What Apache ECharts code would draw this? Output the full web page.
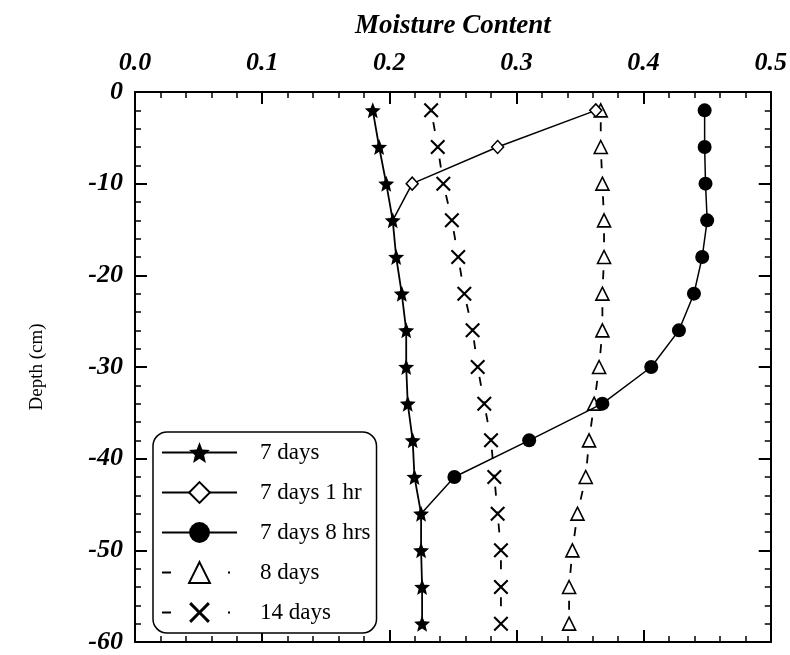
<!DOCTYPE html>
<html>
<head>
<meta charset="utf-8">
<style>
  html, body { margin: 0; padding: 0; background: #fff; }
  #chart { width: 790px; height: 655px; }
</style>
<script src="https://cdn.jsdelivr.net/npm/echarts@6.0.0/dist/echarts.min.js"></script>
</head>
<body>
<div id="chart"></div>
<script>
// ---- data ----
const depths = [-2, -6, -10, -14, -18, -22, -26, -30, -34, -38, -42, -46, -50, -54, -58];
const days7 = [0.187, 0.192, 0.1976, 0.2027, 0.2054, 0.2098, 0.2133, 0.2133, 0.2145, 0.2184, 0.2198, 0.225, 0.225, 0.2258, 0.2258];
const days7hr1 = [0.3624, 0.2852, 0.218, 0.2027];
const days7hr8 = [0.448, 0.448, 0.4487, 0.45, 0.4461, 0.4396, 0.4278, 0.406, 0.3676, 0.31, 0.2512, 0.225];
const days8 = [0.3663, 0.3663, 0.3676, 0.3689, 0.3689, 0.3676, 0.3676, 0.365, 0.3611, 0.3571, 0.3545, 0.348, 0.344, 0.3414, 0.3414];
const days14 = [0.2329, 0.2381, 0.2425, 0.2492, 0.2542, 0.259, 0.2655, 0.2695, 0.2747, 0.28, 0.2826, 0.2852, 0.2878, 0.2878, 0.2878];
const seriesNames = ['7 days', '7 days 1 hr', '7 days 8 hrs', '8 days', '14 days'];
const xTickLabels = ['0.0', '0.1', '0.2', '0.3', '0.4', '0.5'];
const yTickLabels = ['-60', '-50', '-40', '-30', '-20', '-10', '0'];
const xTitle = 'Moisture Content';
const yTitle = 'Depth (cm)';

// ---- styling ----
const FONT = 'Liberation Serif';
const STAR = 'path://M50,0 L62.93,32.2 L97.55,34.55 L70.92,56.8 L79.39,90.45 L50,72 L20.61,90.45 L29.08,56.8 L2.45,34.55 L37.07,32.2 Z';
const CROSS = 'path://M0,1 L1,0 L5,4 L9,0 L10,1 L6,5 L10,9 L9,10 L5,6 L1,10 L0,9 L4,5 Z';
const DASH = [2, 10, 9, 16];
const LEGEND_DASH = [9, 57, 2, 30];

function pairs(vals, lastNoSymbol) {
  return vals.map((v, i) => {
    if (lastNoSymbol && i === vals.length - 1) return { value: [v, depths[i]], symbol: 'none' };
    return [v, depths[i]];
  });
}

function tickCommon() {
  return {
    axisLine: { show: true, onZero: false, lineStyle: { color: '#000', width: 2 } },
    axisTick: { show: true, inside: true, length: 12, lineStyle: { color: '#000', width: 2 } },
    minorTick: { show: true, splitNumber: 5, length: 6, lineStyle: { color: '#000', width: 1.5 } },
    splitLine: { show: false },
    minorSplitLine: { show: false }
  };
}

const legendData = seriesNames.map((n, i) => i >= 3
  ? { name: n, lineStyle: { type: LEGEND_DASH, width: 2 } }
  : { name: n });

const chart = echarts.init(document.getElementById('chart'), null, { renderer: 'canvas' });
chart.setOption({
  backgroundColor: '#fff',
  animation: false,
  grid: { left: 135, right: 18, top: 92, bottom: 9, containLabel: false },
  xAxis: [
    Object.assign({
      type: 'value', position: 'top', min: 0, max: 0.5, interval: 0.1,
      name: xTitle, nameLocation: 'middle', nameGap: 52,
      nameTextStyle: { fontFamily: FONT, fontSize: 27, fontWeight: 'bold', fontStyle: 'italic', color: '#000' },
      axisLabel: {
        show: true, margin: 16, color: '#000', fontFamily: FONT, fontSize: 26, fontWeight: 'bold', fontStyle: 'italic',
        formatter: v => xTickLabels[Math.round(v * 10)]
      }
    }, tickCommon()),
    Object.assign({
      type: 'value', position: 'bottom', min: 0, max: 0.5, interval: 0.1,
      axisLabel: { show: false }
    }, tickCommon())
  ],
  yAxis: [
    Object.assign({
      type: 'value', position: 'left', min: -60, max: 0, interval: 10,
      name: yTitle, nameLocation: 'middle', nameGap: 88, nameRotate: 90,
      nameTextStyle: { fontFamily: FONT, fontSize: 19, color: '#000' },
      axisLabel: {
        show: true, margin: 12, color: '#000', fontFamily: FONT, fontSize: 26, fontWeight: 'bold', fontStyle: 'italic',
        formatter: v => yTickLabels[Math.round((v + 60) / 10)]
      }
    }, tickCommon()),
    Object.assign({
      type: 'value', position: 'right', min: -60, max: 0, interval: 10,
      axisLabel: { show: false }
    }, tickCommon())
  ],
  legend: {
    orient: 'vertical', left: 153, top: 432,
    data: legendData,
    selectedMode: false,
    backgroundColor: '#fff',
    borderColor: '#000', borderWidth: 1.5, borderRadius: 14,
    padding: [9, 6, 9, 8],
    itemWidth: 75, itemHeight: 26, itemGap: 17,
    textStyle: { fontFamily: FONT, fontSize: 23, color: '#000', padding: [0, 0, 0, 18] }
  },
  series: [
    {
      name: seriesNames[3], type: 'line', data: pairs(days8, false),
      symbol: 'triangle', symbolSize: 13,
      itemStyle: { color: '#fff', borderColor: '#000', borderWidth: 1.6 },
      lineStyle: { color: '#000', width: 1.8, type: DASH }, z: 2
    },
    {
      name: seriesNames[4], type: 'line', data: pairs(days14, false),
      symbol: CROSS, symbolSize: 15,
      itemStyle: { color: '#000' },
      lineStyle: { color: '#000', width: 1.8, type: DASH }, z: 2
    },
    {
      name: seriesNames[1], type: 'line', data: pairs(days7hr1, true),
      symbol: 'diamond', symbolSize: [12, 13],
      itemStyle: { color: '#fff', borderColor: '#000', borderWidth: 1.5 },
      lineStyle: { color: '#000', width: 1.5 }, z: 3
    },
    {
      name: seriesNames[2], type: 'line', data: pairs(days7hr8, true),
      symbol: 'circle', symbolSize: 14,
      itemStyle: { color: '#000' },
      lineStyle: { color: '#000', width: 1.5 }, z: 3
    },
    {
      name: seriesNames[0], type: 'line', data: pairs(days7, false),
      symbol: STAR, symbolSize: 16,
      itemStyle: { color: '#000' },
      lineStyle: { color: '#000', width: 1.8 }, z: 4
    }
  ]
});
</script>
</body>
</html>
